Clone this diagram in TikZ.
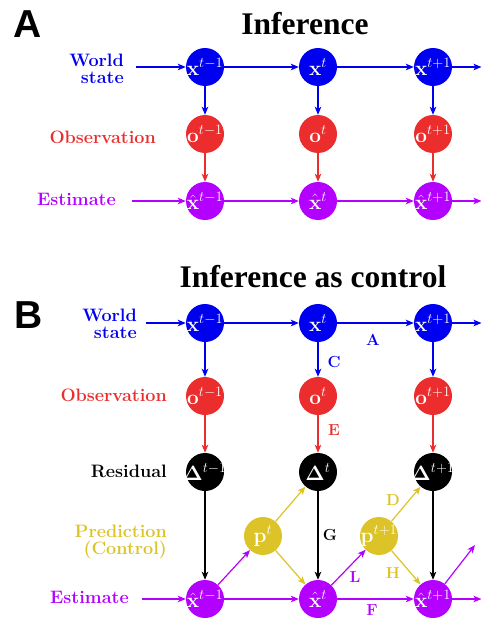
\documentclass[tikz,border=0pt]{standalone}
\usepackage[no-math]{fontspec}
\newfontfamily\titlefont{Liberation Serif}
\newfontfamily\panelfont{Liberation Sans}
\usetikzlibrary{arrows.meta}
\definecolor{cblue}{RGB}{0,0,240}
\definecolor{cred}{RGB}{235,45,45}
\definecolor{cpurple}{RGB}{180,0,255}
\definecolor{cyellow}{RGB}{220,195,40}
\newcommand\cn[4]{\node[circ, fill=#3, label={[ntext]center:#4}] (#1) at (#2) {};}
\begin{document}
\begin{tikzpicture}[x=1pt,y=-1pt,
  circ/.style={circle, minimum size=38pt, inner sep=0pt, draw=none},
  ntext/.style={white, inner sep=0pt, font=\fontsize{22}{24}\selectfont},
  lab/.style={font=\bfseries\fontsize{18}{17}\selectfont, align=right, anchor=east, inner sep=0pt},
  elab/.style={font=\bfseries\fontsize{16}{16}\selectfont, inner sep=0pt},
  ttl/.style={font=\titlefont\bfseries\fontsize{31.5}{34}\selectfont, inner sep=0pt},
  pnl/.style={font=\panelfont\bfseries\fontsize{39}{42}\selectfont, inner sep=0pt},
  arr/.style={-{Stealth[length=8pt,width=6.5pt,inset=2pt]}, line width=1.2pt},
]
\useasboundingbox (0,0) rectangle (482,618);

% ---------- Panel A ----------
\node[pnl] (pa) at (28,24) {A};
\node[ttl] (ta) at (305,24) {Inference};

\node[lab, cblue] (lwa) at (124,69) {World\\state};
\node[lab, cred] (loa) at (156,137) {Observation};
\node[lab, cpurple] (lea) at (116,199) {Estimate};

\cn{xa1}{205,67}{cblue}{$\mathbf{x}^{t-1}$}
\cn{xa2}{318,67}{cblue}{$\mathbf{x}^{t}$}
\cn{xa3}{433,67}{cblue}{$\mathbf{x}^{t+1}$}
\cn{oa1}{205,134}{cred}{$\mathbf{o}^{t-1}$}
\cn{oa2}{318,134}{cred}{$\mathbf{o}^{t}$}
\cn{oa3}{433,134}{cred}{$\mathbf{o}^{t+1}$}
\cn{ea1}{205,201}{cpurple}{$\hat{\mathbf{x}}^{t-1}$}
\cn{ea2}{318,201}{cpurple}{$\hat{\mathbf{x}}^{t}$}
\cn{ea3}{433,201}{cpurple}{$\hat{\mathbf{x}}^{t+1}$}

\coordinate (xain) at (136,67);
\coordinate (xaout) at (481.5,67);
\coordinate (eain) at (132,201);
\coordinate (eaout) at (481.5,201);

\draw[arr,cblue] (xain) -- (xa1);
\draw[arr,cblue] (xa1) -- (xa2);
\draw[arr,cblue] (xa2) -- (xa3);
\draw[arr,cblue] (xa3) -- (xaout);
\draw[arr,cblue] (xa1) -- (oa1);
\draw[arr,cblue] (xa2) -- (oa2);
\draw[arr,cblue] (xa3) -- (oa3);
\draw[arr,cred] (oa1) -- (ea1);
\draw[arr,cred] (oa2) -- (ea2);
\draw[arr,cred] (oa3) -- (ea3);
\draw[arr,cpurple] (eain) -- (ea1);
\draw[arr,cpurple] (ea1) -- (ea2);
\draw[arr,cpurple] (ea2) -- (ea3);
\draw[arr,cpurple] (ea3) -- (eaout);

% ---------- Panel B ----------
\node[pnl] (pb) at (29,315) {B};
\node[ttl] (tb) at (313,277) {Inference as control};

\node[lab, cblue] (lwb) at (137,324) {World\\state};
\node[lab, cred] (lob) at (167,395) {Observation};
\node[lab, black] (lrb) at (167,471) {Residual};
\node[lab, cyellow] (lpb) at (167,542) {Prediction\\(Control)};
\node[lab, cpurple] (leb) at (129,597) {Estimate};

\cn{xb1}{205,323}{cblue}{$\mathbf{x}^{t-1}$}
\cn{xb2}{318,323}{cblue}{$\mathbf{x}^{t}$}
\cn{xb3}{433,323}{cblue}{$\mathbf{x}^{t+1}$}
\cn{ob1}{205,396}{cred}{$\mathbf{o}^{t-1}$}
\cn{ob2}{318,396}{cred}{$\mathbf{o}^{t}$}
\cn{ob3}{433,396}{cred}{$\mathbf{o}^{t+1}$}
\cn{rb1}{205,472}{black}{$\mathbf{\Delta}^{t-1}$}
\cn{rb2}{318,472}{black}{$\mathbf{\Delta}^{t}$}
\cn{rb3}{433,472}{black}{$\mathbf{\Delta}^{t+1}$}
\cn{pb2}{263,536}{cyellow}{$\mathbf{p}^{t}$}
\cn{pb3}{379,536}{cyellow}{$\mathbf{p}^{t+1}$}
\cn{eb1}{205,599}{cpurple}{$\hat{\mathbf{x}}^{t-1}$}
\cn{eb2}{318,599}{cpurple}{$\hat{\mathbf{x}}^{t}$}
\cn{eb3}{433,599}{cpurple}{$\hat{\mathbf{x}}^{t+1}$}

\coordinate (xbin) at (146,323);
\coordinate (xbout) at (481.5,323);
\coordinate (ebin) at (142,599);
\coordinate (ebout) at (481.5,599);
\coordinate (ebdiag) at (475,545);

\draw[arr,cblue] (xbin) -- (xb1);
\draw[arr,cblue] (xb1) -- (xb2);
\draw[arr,cblue] (xb2) -- (xb3);
\draw[arr,cblue] (xb3) -- (xbout);
\draw[arr,cblue] (xb1) -- (ob1);
\draw[arr,cblue] (xb2) -- (ob2);
\draw[arr,cblue] (xb3) -- (ob3);
\draw[arr,cred] (ob1) -- (rb1);
\draw[arr,cred] (ob2) -- (rb2);
\draw[arr,cred] (ob3) -- (rb3);
\draw[arr,black] (rb1) -- (eb1);
\draw[arr,black] (rb2) -- (eb2);
\draw[arr,black] (rb3) -- (eb3);
\draw[arr,cpurple] (eb1) -- (pb2);
\draw[arr,cyellow] (pb2) -- (rb2);
\draw[arr,cyellow] (pb2) -- (eb2);
\draw[arr,cpurple] (eb2) -- (pb3);
\draw[arr,cyellow] (pb3) -- (rb3);
\draw[arr,cyellow] (pb3) -- (eb3);
\draw[arr,cpurple] (eb3) -- (ebdiag);
\draw[arr,cpurple] (ebin) -- (eb1);
\draw[arr,cpurple] (eb1) -- (eb2);
\draw[arr,cpurple] (eb2) -- (eb3);
\draw[arr,cpurple] (eb3) -- (ebout);

\node[elab, cblue] (lA) at (373,340) {A};
\node[elab, cblue] (lC) at (334,362) {C};
\node[elab, cred] (lE) at (334,430) {E};
\node[elab, black] (lG) at (330,535) {G};
\node[elab, cyellow] (lD) at (393,500) {D};
\node[elab, cyellow] (lH) at (393,573) {H};
\node[elab, cpurple] (lL) at (355,577) {L};
\node[elab, cpurple] (lF) at (372,610) {F};
\end{tikzpicture}
\end{document}
